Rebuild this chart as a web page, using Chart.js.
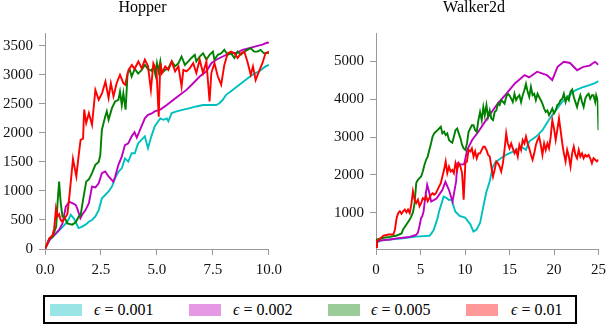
<!DOCTYPE html>
<html>
<head>
<meta charset="utf-8">
<script src="https://cdn.jsdelivr.net/npm/chart.js@4.4.1/dist/chart.umd.min.js"></script>
<style>
    html, body { margin: 0; padding: 0; background: #fff; width: 610px; height: 326px; overflow: hidden; }
    canvas { position: absolute; top: 0; }
    #hopper-chart { left: 0; }
    #walker-chart { left: 326px; }
    .title {
        position: absolute; top: -1px; width: 200px; text-align: center;
        font-family: 'Liberation Serif', 'DejaVu Serif', serif; font-size: 16px; line-height: 16px; color: #000;
    }
    #hopper-title { left: 42.5px; }
    #walker-title { left: 374px; }
    #legend {
        position: absolute; left: 43px; top: 295px; width: 534px; height: 29px;
        border: 2px solid #000; box-sizing: border-box;
        font-family: 'Liberation Serif', 'DejaVu Serif', serif; font-size: 16px; color: #000;
    }
    .patch { position: absolute; top: 7px; width: 32px; height: 12px; box-sizing: border-box; }
    .label { position: absolute; top: 5px; line-height: 16px; white-space: nowrap; }
</style>
</head>
<body>
<canvas id="hopper-chart" width="288" height="279"></canvas>
<canvas id="walker-chart" width="286" height="279"></canvas>
<div class="title" id="hopper-title"></div>
<div class="title" id="walker-title"></div>
<div id="legend"></div>
<script>
// Panel titles, series names and colours
const titles = ['Hopper', 'Walker2d'];
const epsilons = ['0.001', '0.002', '0.005', '0.01'];
const lineColors = ['#00bfbf', '#bf00bf', '#008000', '#ff0000'];
const patchColors = ['#99e5e5', '#e599e5', '#99cc99', '#ff9999'];

// Tick labels
const hopperXTicks = [0, 2.5, 5, 7.5, 10];
const hopperYTicks = [0, 500, 1000, 1500, 2000, 2500, 3000, 3500];
const walkerXTicks = [0, 5, 10, 15, 20, 25];
const walkerYTicks = [1000, 2000, 3000, 4000, 5000];

// Hopper
const hopperCyanX = [0, 0.2, 0.5, 0.8, 1.0, 1.15, 1.3, 1.5, 1.66, 1.81, 1.96, 2.1, 2.25, 2.4, 2.54, 2.69, 2.84, 2.99, 3.13, 3.28, 3.43, 3.57, 3.72, 3.87, 4.01, 4.16, 4.31, 4.46, 4.6, 4.75, 4.9, 5.04, 5.15, 5.29, 5.44, 5.51, 5.66, 5.88, 6.18, 6.47, 6.76, 7.06, 7.35, 7.65, 7.79, 7.94, 8.09, 8.38, 8.68, 8.97, 9.26, 9.56, 9.85, 10];
const hopperCyanY = [0, 155, 270, 385, 470, 590, 520, 360, 385, 420, 470, 500, 560, 670, 875, 930, 990, 1075, 1220, 1330, 1390, 1560, 1505, 1650, 1650, 1820, 1880, 1940, 1735, 1940, 2110, 2190, 2250, 2225, 2250, 2200, 2340, 2370, 2400, 2425, 2455, 2480, 2480, 2480, 2510, 2570, 2655, 2740, 2830, 2915, 3000, 3060, 3145, 3170];

const hopperMagentaX = [0, 0.2, 0.49, 0.63, 0.78, 0.93, 1.08, 1.22, 1.37, 1.44, 1.58, 1.66, 1.81, 1.96, 2.1, 2.25, 2.4, 2.54, 2.69, 2.84, 3.05, 3.13, 3.28, 3.43, 3.57, 3.72, 3.87, 4.0, 4.1, 4.31, 4.46, 4.6, 4.75, 4.9, 5.15, 5.44, 5.74, 6.03, 6.32, 6.62, 6.91, 7.21, 7.43, 7.65, 7.94, 8.24, 8.53, 8.82, 9.12, 9.41, 9.71, 9.93, 10];
const hopperMagentaY = [0, 155, 270, 330, 440, 730, 815, 790, 760, 700, 530, 590, 670, 790, 1075, 1060, 1130, 1305, 1335, 1250, 1160, 1240, 1450, 1590, 1790, 1820, 1940, 2010, 1920, 2110, 2250, 2310, 2330, 2370, 2400, 2480, 2570, 2655, 2740, 2855, 2970, 3060, 3200, 3260, 3315, 3370, 3375, 3430, 3460, 3490, 3520, 3555, 3550];

const hopperGreenX = [0, 0.2, 0.34, 0.5, 0.56, 0.63, 0.7, 0.78, 0.85, 1.0, 1.22, 1.37, 1.51, 1.59, 1.7, 1.84, 1.96, 2.1, 2.25, 2.4, 2.47, 2.54, 2.69, 2.76, 2.84, 2.99, 3.13, 3.28, 3.35, 3.43, 3.5, 3.6, 3.69, 3.79, 3.87, 4.01, 4.16, 4.31, 4.46, 4.6, 4.75,
    4.85, 4.93, 5.0, 5.07, 5.15, 5.22, 5.37, 5.51, 5.66, 5.81, 5.96, 6.1, 6.25, 6.4, 6.54, 6.69, 6.76, 6.91, 7.06, 7.21, 7.35, 7.5, 7.57, 7.72, 7.87, 8.01, 8.16, 8.31, 8.46, 8.6, 8.75, 8.9, 9.04, 9.19, 9.34, 9.49, 9.63, 9.78, 9.93, 10];
const hopperGreenY = [0, 185, 210, 385, 790, 1160, 800, 560, 560, 440, 420, 460, 560, 580, 845, 1160, 1200, 1305, 1450, 1500, 1620, 2050, 2280, 2370, 2225, 2425, 2540, 2570, 2710, 2480, 2680, 2400, 3030, 3085, 2970, 3100, 3020, 3080, 3170, 3100, 3070,
    3145, 3000, 3200, 3060, 3230, 3030, 3085, 3115, 3230, 3145, 3200, 3315, 3170, 3230, 3290, 3345, 3230, 3315, 3370, 3260, 3345, 3400, 3260, 3345, 3370, 3430, 3345, 3370, 3290, 3400, 3345, 3400, 3430, 3460, 3400, 3400, 3430, 3370, 3380, 3370];

const hopperRedX = [0, 0.19, 0.34, 0.41, 0.49, 0.56, 0.63, 0.7, 0.78, 0.93, 1.0, 1.1, 1.25, 1.4, 1.5, 1.59, 1.7, 1.75, 1.84, 1.96, 2.1, 2.25, 2.4, 2.55, 2.7, 2.84, 2.94, 3.06, 3.2, 3.35, 3.5, 3.58, 3.73, 3.88, 4.0, 4.17, 4.32, 4.46, 4.6, 4.73,
    4.84, 4.98, 5.08, 5.15, 5.22, 5.37, 5.51, 5.66, 5.81, 5.96, 6.1, 6.18, 6.32, 6.47, 6.62, 6.76, 6.91, 7.06, 7.21, 7.35, 7.43, 7.57, 7.72, 7.87, 8.01, 8.16, 8.31, 8.46, 8.6, 8.75, 8.9, 9.04, 9.19, 9.29, 9.41, 9.56, 9.71, 9.85, 10];
const hopperRedY = [0, 180, 240, 350, 700, 560, 600, 500, 470, 560, 600, 950, 1550, 1250, 1600, 1880, 1900, 2400, 2170, 2340, 2140, 2740, 2570, 2685, 2885, 2600, 2855, 2630, 2855, 3000, 2855, 2830, 3085, 3170, 3100, 3230, 3110, 3260, 3150, 2740,
    3200, 3085, 2280, 3200, 3030, 3145, 3085, 3230, 3060, 3145, 2800, 3085, 3060, 3115, 3200, 3030, 3260, 3030, 3230, 2540, 3030, 3200, 2970, 2830, 3170, 3370, 3400, 3370, 3290, 3370, 3400, 3230, 3000, 3145, 2910, 3060, 3200, 3370, 3400];

// Walker2d
const walkerCyanX = [0, 0.5, 1.5, 2.5, 3.5, 4.5, 5.3, 6.0, 6.2, 6.5, 6.9, 7.1, 7.3, 7.6, 7.9, 8.2, 8.5, 8.9, 9.4, 10.0, 10.6, 10.95, 11.3, 11.7, 12.0, 12.4, 12.8, 13.1, 13.4, 13.9, 14.6, 15.4, 16.1, 16.5, 16.85, 17.2, 18.0, 18.7, 19.4, 20.2, 20.9, 21.7, 22.4, 23.1, 23.9, 24.6, 25];
const walkerCyanY = [200, 270, 300, 320, 345, 375, 390, 400, 450, 560, 850, 1050, 1200, 1430, 1400, 1340, 1350, 1040, 920, 880, 700, 510, 560, 740, 1100, 1550, 1850, 2200, 2330, 2420, 2530, 2615, 2700, 2720, 2660, 2880, 3010, 3180, 3440, 3710, 3920, 4100, 4230, 4300, 4360, 4420, 4470];

const walkerMagentaX = [0, 0.1, 0.85, 1.6, 2.3, 3.0, 3.8, 4.2, 4.5, 4.7, 4.9, 5.07, 5.2, 5.35, 5.55, 5.75, 5.95, 6.2, 6.8, 7.45, 7.8, 8.2, 8.6, 9.0, 9.15, 9.5, 9.9, 10.25, 10.8, 11.5, 12.6, 13.7, 14.5, 15.6, 16.7, 17.2, 18.1, 19.2, 19.8, 20.4, 21.1, 21.8, 22.6, 23.3, 24.0, 24.6, 25];
const walkerMagentaY = [100, 260, 285, 300, 330, 345, 370, 400, 420, 475, 670, 870, 910, 1045, 1435, 1740, 1570, 1300, 1380, 1605, 1820, 1605, 1300, 1830, 2310, 2280, 2280, 2660, 2920, 3140, 3530, 3890, 4100, 4410, 4630, 4570, 4720, 4630, 4500, 4850, 4980, 4950, 4760, 4850, 4880, 4980, 4900];

const walkerGreenX = [0, 0.11, 0.85, 1.58, 2.32, 2.87, 3.05, 3.42, 3.79, 3.97, 4.15, 4.34, 4.52, 4.71, 4.89, 5.07, 5.26, 5.44, 5.63, 5.81,
    5.99, 6.18, 6.36, 6.54, 6.73, 6.91, 7.1, 7.28, 7.46, 7.65, 7.83, 8.01, 8.2, 8.38, 8.57, 8.75, 8.93, 9.12, 9.3, 9.49,
    9.67, 9.85, 10.04, 10.22, 10.4, 10.59, 10.77, 10.96, 11.14, 11.32, 11.51, 11.69, 11.88, 12.06, 12.22, 12.41, 12.59, 12.78, 12.96, 13.15,
    13.33, 13.52, 13.7, 13.89, 14.07, 14.26, 14.44, 14.63, 14.81, 15.0, 15.19, 15.37, 15.56, 15.74, 15.93, 16.11, 16.3, 16.48, 16.67, 16.85,
    17.04, 17.22, 17.41, 17.59, 17.78, 17.96, 18.15, 18.33, 18.52, 18.7, 18.89, 19.07, 19.26, 19.44, 19.63, 19.81, 20.0, 20.19, 20.37, 20.56,
    20.74, 20.93, 21.11, 21.3, 21.48, 21.67, 21.85, 22.04, 22.22, 22.41, 22.59, 22.78, 22.96, 23.15, 23.33, 23.52, 23.7, 23.89, 24.07, 24.26,
    24.44, 24.63, 24.74, 24.9, 25];
const walkerGreenY = [200, 300, 345, 370, 405, 460, 565, 695, 825, 910, 1015, 1260, 1785, 1870, 1915, 1960, 2090, 2265, 2400, 2485,
    2660, 2830, 3010, 3095, 3140, 3180, 3225, 3270, 3095, 3140, 3050, 3095, 2920, 2880, 2850, 3010, 3180, 3225, 3095, 2965,
    2790, 2700, 2660, 2830, 3140, 3225, 3310, 3310, 3180, 3140, 3445, 3660, 3445, 3790, 3575, 3840, 3530, 3700, 3490, 3445,
    3660, 3700, 3880, 3840, 3970, 3930, 3880, 4055, 4140, 4100, 4010, 3920, 4140, 3970, 4055, 4100, 3920, 4100, 4230, 4400,
    4190, 4055, 4320, 4100, 4140, 3970, 4140, 4055, 3970, 3880, 3750, 3660, 3700, 3575, 3660, 3750, 3620, 3700, 3840, 3880,
    3970, 4010, 4140, 3920, 4055, 3970, 4190, 4250, 4055, 3920, 3790, 3970, 4100, 3920, 3790, 4010, 4100, 4140, 4010, 4100,
    4100, 3920, 4100, 3970, 3180];

const walkerRedX = [0, 0.11, 0.48, 0.85, 1.4, 1.95, 2.13, 2.32, 2.5, 2.68, 2.87, 3.05, 3.24, 3.42, 3.6, 3.79, 3.97, 4.15, 4.34, 4.52,
    4.71, 4.89, 5.07, 5.26, 5.44, 5.63, 5.81, 5.99, 6.18, 6.36, 6.54, 6.73, 6.91, 7.1, 7.28, 7.46, 7.65, 7.83, 8.01, 8.2,
    8.38, 8.57, 8.75, 8.93, 9.12, 9.3, 9.49, 9.67, 9.85, 10.04, 10.22, 10.4, 10.59, 10.77, 10.96, 11.14, 11.32, 11.51, 11.69, 11.88,
    12.06, 12.22, 12.41, 12.59, 12.78, 12.96, 13.15, 13.33, 13.52, 13.7, 13.89, 14.07, 14.26, 14.44, 14.63, 14.81, 15.0, 15.19, 15.37, 15.56,
    15.74, 15.93, 16.11, 16.3, 16.48, 16.67, 16.85, 17.04, 17.22, 17.41, 17.59, 17.78, 17.96, 18.15, 18.33, 18.52, 18.7, 18.89, 19.07, 19.26,
    19.44, 19.63, 19.81, 20.0, 20.19, 20.37, 20.56, 20.74, 20.93, 21.11, 21.3, 21.48, 21.67, 21.85, 22.04, 22.22, 22.41, 22.59, 22.78, 22.96,
    23.15, 23.33, 23.52, 23.7, 23.89, 24.07, 24.26, 24.44, 24.63, 24.81, 25];
const walkerRedY = [100, 260, 330, 405, 430, 430, 565, 870, 1000, 1045, 980, 1045, 1090, 1015, 1090, 1000, 1220, 1570, 1350, 1260,
    1350, 1175, 1260, 1390, 1350, 1435, 1305, 1390, 1480, 1520, 1480, 1520, 1610, 1700, 1785, 1960, 2135, 2355, 2050, 2220,
    2090, 2135, 2050, 2310, 2135, 2310, 2220, 2050, 1350, 2310, 2355, 2660, 2620, 2700, 2485, 2620, 2440, 2570, 2570, 2660,
    2745, 2745, 2660, 2530, 2485, 2220, 1960, 2135, 2355, 2310, 2220, 2090, 2310, 2660, 3095, 2830, 2700, 2830, 2700, 2570,
    2660, 2485, 2790, 2660, 2920, 2830, 3010, 2830, 2700, 2530, 2400, 2570, 2790, 2920, 3010, 2790, 2530, 2830, 2660, 2830,
    2700, 3010, 3445, 3225, 2920, 3180, 3490, 3180, 2830, 2570, 2355, 2660, 2485, 2220, 2570, 2745, 2530, 2440, 2660, 2485,
    2570, 2440, 2530, 2485, 2530, 2440, 2310, 2440, 2400, 2355, 2400];

Chart.defaults.font.family = "'Liberation Serif', 'DejaVu Serif', serif";
Chart.defaults.color = '#111';

// Pair x and y arrays into points
function toPoints(xs, ys) {
    return xs.map((x, i) => ({ x: x, y: ys[i] }));
}

// Axis with gray line, outside ticks and no grid
function axis(min, max, ticks, format, fit) {
    return {
        type: 'linear',
        min: min,
        max: max,
        afterBuildTicks: scale => { scale.ticks = ticks.map(v => ({ value: v })); },
        afterFit: fit,
        ticks: { callback: format, font: { size: 15 }, color: '#111', padding: 6, maxRotation: 0, autoSkip: false },
        grid: { drawOnChartArea: false, tickLength: 6, color: '#999', lineWidth: 1 },
        border: { color: '#999', width: 1 }
    };
}

function makeChart(canvasId, series, x, y, padding) {
    const ctx = document.getElementById(canvasId).getContext('2d');
    return new Chart(ctx, {
        type: 'line',
        data: {
            datasets: series.map((s, i) => ({
                label: epsilons[i],
                data: toPoints(s[0], s[1]),
                borderColor: lineColors[i],
                borderWidth: 1.9,
                pointRadius: 0,
                tension: 0,
                order: 3 - i
            }))
        },
        options: {
            responsive: false,
            animation: false,
            layout: { padding: padding },
            plugins: {
                legend: { display: false },
                tooltip: { enabled: false },
                title: { display: false }
            },
            scales: { x: x, y: y }
        }
    });
}

makeChart('hopper-chart',
    [[hopperCyanX, hopperCyanY], [hopperMagentaX, hopperMagentaY], [hopperGreenX, hopperGreenY], [hopperRedX, hopperRedY]],
    axis(0, 10, hopperXTicks, v => v.toFixed(1), s => { s.height = 30; }),
    axis(0, 3720, hopperYTicks, v => String(v), s => { s.width = 45; }),
    { left: 0, right: 16, top: 33, bottom: 0 });

makeChart('walker-chart',
    [[walkerCyanX, walkerCyanY], [walkerMagentaX, walkerMagentaY], [walkerGreenX, walkerGreenY], [walkerRedX, walkerRedY]],
    axis(0, 25, walkerXTicks, v => String(v), s => { s.height = 30; }),
    axis(50, 5740, walkerYTicks, v => String(v), s => { s.width = 50; }),
    { left: 0, right: 10, top: 33, bottom: 0 });

// Titles over each panel
document.getElementById('hopper-title').textContent = titles[0];
document.getElementById('walker-title').textContent = titles[1];

// Legend below both panels
const patchLeft = [5, 144, 283, 421];
const labelLeft = [49, 188, 326, 466];
const legend = document.getElementById('legend');
epsilons.forEach((eps, i) => {
    const patch = document.createElement('div');
    patch.className = 'patch';
    patch.style.left = patchLeft[i] + 'px';
    patch.style.background = patchColors[i];
    patch.style.border = '1px solid ' + patchColors[i];
    legend.appendChild(patch);
    const label = document.createElement('div');
    label.className = 'label';
    label.style.left = labelLeft[i] + 'px';
    label.innerHTML = '<i>ϵ</i> = ' + eps;
    legend.appendChild(label);
});
</script>
</body>
</html>
